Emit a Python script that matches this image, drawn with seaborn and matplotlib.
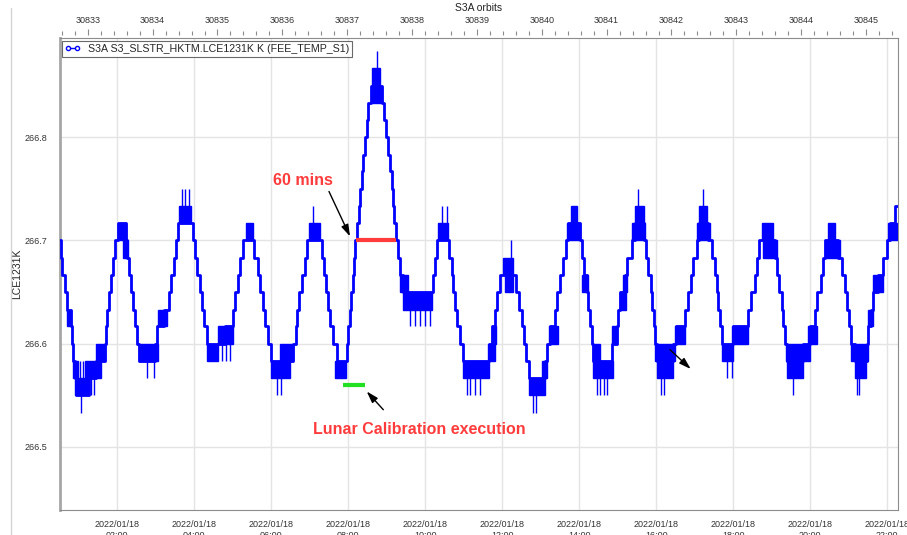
import numpy as np
import pandas as pd
import matplotlib
matplotlib.use("Agg")
import matplotlib.pyplot as plt
import seaborn as sns
from matplotlib.lines import Line2D
from matplotlib.ticker import MultipleLocator, FixedLocator, FuncFormatter

# ---------------- data (time in minutes after 2022/01/18 00:00, temperature in K) ----------------
main_t = [31, 32.2, 34.2, 38.0, 42.0, 47.3, 49.4, 51.4, 53.6, 55.6,
          75.9, 87.2, 100.3, 101.9, 104.4, 107.0, 110.6, 113.3, 116.9, 121.1,
          134.0, 135.6, 138.2, 140.9, 144.5, 148.0, 150.7, 153.8,
          178.3, 182.3, 192.8, 200.6, 204.2, 207.9, 211.0, 214.6,
          238.0, 240.6, 244.7, 248.4, 251.5, 255.1, 259.3,
          287.9, 300.9, 303.5, 308.6, 311.3, 315.5,
          333.1, 339.8, 342.4, 346.6, 350.3, 355.4, 359.1,
          394.5, 398.1, 399.7, 403.7, 407.5, 412.6, 416.2,
          438.6, 442.7, 445.4, 449.0, 451.6, 455.8, 462.0,
          477.6, 480.0, 482.3, 484.3, 486.9, 489.0, 491.0, 494.1, 496.3, 498.8, 501.0, 503.5, 506.2, 508.8, 511.3, 515.0,
          532.2, 535.8, 538.9, 541.5, 545.1, 547.8, 550.3, 551.8, 554.5, 558.1, 560.7, 564.9,
          612.6, 615.3, 617.9,
          637.6, 641.3, 643.8, 646.9, 650.1, 654.3, 658.5,
          699.9, 703.7, 708.8, 711.4, 716.6,
          741.6, 746.7, 750.5, 754.0, 757.2, 762.3,
          786.8, 789.4, 794.6, 802.4, 806.0, 810.2, 814.4, 819.5, 823.1,
          841.3, 844.0, 847.6, 851.7, 854.3, 856.9, 859.6, 862.1,
          890.8, 898.6, 901.1, 903.7, 911.5, 915.1, 922.0, 927.1,
          941.1, 944.2, 947.8, 951.6, 954.0, 956.7, 958.7, 960.9,
          986.8, 991.0, 1005.0, 1010.2, 1013.9, 1018.0, 1023.2, 1027.3,
          1041.4, 1046.6, 1051.8, 1054.4, 1056.9, 1059.6, 1062.2,
          1080.3, 1103.7, 1107.4, 1114.1, 1117.7, 1120.8,
          1145.3, 1148.0, 1152.0, 1155.8, 1158.3, 1160.9, 1163.6,
          1188.5, 1199.9, 1207.7, 1211.3, 1216.6, 1219.7, 1223.3,
          1244.0, 1249.3, 1254.5, 1258.1, 1261.2, 1263.3, 1270.0,
          1288.3, 1290.8, 1294.5, 1298.6, 1306.4, 1314.2, 1320.5, 1324.6, 1332.4, 1337.0]

main_K = [266.700, 266.683, 266.667, 266.650, 266.633, 266.617, 266.600, 266.583, 266.567, 266.550,
          266.567, 266.583, 266.600, 266.617, 266.633, 266.650, 266.667, 266.683, 266.700, 266.717,
          266.700, 266.683, 266.667, 266.650, 266.633, 266.617, 266.600, 266.583,
          266.600, 266.617, 266.633, 266.650, 266.667, 266.683, 266.700, 266.717,
          266.700, 266.683, 266.667, 266.650, 266.633, 266.617, 266.600,
          266.617, 266.633, 266.650, 266.667, 266.683, 266.700,
          266.683, 266.667, 266.650, 266.633, 266.617, 266.600, 266.583,
          266.600, 266.617, 266.633, 266.650, 266.667, 266.683, 266.700,
          266.683, 266.667, 266.650, 266.633, 266.617, 266.600, 266.583,
          266.600, 266.617, 266.633, 266.650, 266.667, 266.683, 266.700, 266.717, 266.733, 266.750, 266.767, 266.783, 266.800, 266.817, 266.833, 266.850,
          266.833, 266.817, 266.800, 266.783, 266.767, 266.750, 266.733, 266.717, 266.700, 266.683, 266.667, 266.650,
          266.667, 266.683, 266.700,
          266.683, 266.667, 266.650, 266.633, 266.617, 266.600, 266.583,
          266.600, 266.617, 266.633, 266.650, 266.667,
          266.650, 266.633, 266.617, 266.600, 266.583, 266.567,
          266.583, 266.600, 266.617, 266.633, 266.650, 266.667, 266.683, 266.700, 266.717,
          266.700, 266.683, 266.667, 266.650, 266.633, 266.617, 266.600, 266.583,
          266.600, 266.617, 266.633, 266.650, 266.667, 266.683, 266.700, 266.717,
          266.700, 266.683, 266.667, 266.650, 266.633, 266.617, 266.600, 266.583,
          266.600, 266.617, 266.633, 266.650, 266.667, 266.683, 266.700, 266.717,
          266.700, 266.683, 266.667, 266.650, 266.633, 266.617, 266.600,
          266.617, 266.633, 266.650, 266.667, 266.683, 266.700,
          266.683, 266.667, 266.650, 266.633, 266.617, 266.600, 266.583,
          266.600, 266.617, 266.633, 266.650, 266.667, 266.683, 266.700,
          266.683, 266.667, 266.650, 266.633, 266.617, 266.600, 266.583,
          266.600, 266.617, 266.633, 266.650, 266.667, 266.683, 266.700, 266.717, 266.733, 266.733]

# dense toggling between two adjacent levels (start, end, low, high)
blk_t0 = [41.6, 50.9, 54.5, 69.2, 87.3, 121.1, 128.9, 153.8, 183.4, 215.7,
          259.4, 277.4, 320.2, 359.1, 373.6, 419.3, 459.4, 516.6, 516.6, 560.7,
          564.9, 620.4, 659.4, 698.4, 703.7, 720.8, 724.4, 762.3, 781.6, 793.5,
          821.5, 826.8, 844.0, 862.1, 862.1, 890.8, 903.7, 907.9, 927.1, 922.0,
          958.7, 960.9, 989.5, 1027.3, 1023.2, 1062.2, 1077.8, 1124.6, 1126.6, 1162.5,
          1163.6, 1197.3, 1228.4, 1223.3, 1263.3, 1270.0, 1290.8, 1298.6, 1322.0]
blk_t1 = [47.8, 58.7, 75.4, 95.0, 100.3, 134.0, 136.7, 183.4, 198.0, 234.4,
          277.4, 300.9, 331.1, 389.2, 394.5, 436.0, 476.5, 529.5, 532.2, 573.6,
          610.1, 636.0, 699.9, 708.8, 710.4, 737.4, 737.4, 786.8, 789.4, 807.5,
          841.3, 837.1, 853.8, 893.3, 872.5, 899.5, 913.1, 914.1, 941.1, 942.7,
          989.5, 986.8, 1005.0, 1039.8, 1044.0, 1080.3, 1103.7, 1142.7, 1148.0, 1199.9,
          1188.5, 1210.4, 1238.9, 1246.7, 1290.8, 1287.1, 1298.6, 1313.7, 1335.1]
blk_lo = [266.617, 266.567, 266.550, 266.567, 266.583, 266.700, 266.683, 266.583, 266.617, 266.717,
          266.583, 266.600, 266.700, 266.567, 266.583, 266.700, 266.567, 266.850, 266.833, 266.650,
          266.633, 266.700, 266.567, 266.583, 266.600, 266.667, 266.650, 266.550, 266.567, 266.600,
          266.700, 266.717, 266.650, 266.567, 266.583, 266.600, 266.633, 266.650, 266.717, 266.700,
          266.583, 266.567, 266.600, 266.717, 266.700, 266.583, 266.600, 266.700, 266.683, 266.583,
          266.567, 266.600, 266.700, 266.683, 266.583, 266.567, 266.617, 266.650, 266.700]
blk_hi = [266.633, 266.583, 266.567, 266.583, 266.600, 266.717, 266.700, 266.600, 266.633, 266.733,
          266.600, 266.617, 266.717, 266.583, 266.600, 266.717, 266.583, 266.867, 266.850, 266.667,
          266.650, 266.717, 266.583, 266.600, 266.617, 266.683, 266.667, 266.567, 266.583, 266.617,
          266.717, 266.733, 266.667, 266.583, 266.600, 266.617, 266.650, 266.667, 266.733, 266.717,
          266.600, 266.583, 266.617, 266.733, 266.717, 266.600, 266.617, 266.717, 266.700, 266.600,
          266.583, 266.617, 266.717, 266.700, 266.600, 266.583, 266.633, 266.667, 266.717]

# isolated single-sample excursions (time, low, high)
spk_t = [61.4, 63.9, 66.5, 79.4, 83.7, 166.8, 176.7, 220.9, 225.5, 231.3,
         283.2, 289.4, 295.7, 368.5, 375.2, 424.6, 524.4, 576.3, 584.1, 591.9,
         599.7, 607.5, 626.7, 633.5, 664.7, 669.8, 677.6, 685.4, 733.3, 768.6,
         772.7, 867.9, 872.5, 878.8, 883.4, 932.2, 968.3, 972.4, 1033.0, 1070.1,
         1077.8, 1173.9, 1273.6, 1276.7]
spk_lo = [266.550, 266.533, 266.550, 266.550, 266.550, 266.567, 266.567, 266.733, 266.733, 266.733,
          266.583, 266.583, 266.583, 266.550, 266.550, 266.717, 266.867, 266.617, 266.617, 266.617,
          266.617, 266.617, 266.717, 266.717, 266.550, 266.550, 266.550, 266.550, 266.683, 266.533,
          266.533, 266.550, 266.550, 266.550, 266.550, 266.733, 266.550, 266.550, 266.733, 266.567,
          266.567, 266.550, 266.550, 266.550]
spk_hi = [266.583, 266.550, 266.583, 266.583, 266.583, 266.583, 266.583, 266.750, 266.750, 266.750,
          266.600, 266.600, 266.600, 266.567, 266.567, 266.733, 266.883, 266.633, 266.633, 266.633,
          266.633, 266.633, 266.733, 266.733, 266.567, 266.567, 266.567, 266.567, 266.700, 266.550,
          266.550, 266.567, 266.567, 266.567, 266.567, 266.750, 266.567, 266.567, 266.750, 266.583,
          266.583, 266.567, 266.567, 266.567]

# annotation marks
span60_min = [492.1, 554.5]
span60_K = 266.700
lunar_min = [471.4, 506.1]
lunar_K = 266.560

y_major = [266.5, 266.6, 266.7, 266.8]
date_label = "2022/01/18"
series_label = "S3A S3_SLSTR_HKTM.LCE1231K K (FEE_TEMP_S1)"
orbit_labels = list(range(30833, 30846))
orbit_ref = 30833
orbit_ref_min = 74.0
orbit_period_min = 101.1

assert len(main_t) == len(main_K)

# ---------------- figure ----------------
sns.set_style("white")
plt.rcParams["font.family"] = ["Liberation Sans", "DejaVu Sans"]

fig = plt.figure(figsize=(9.07, 5.35), dpi=100)
ax = fig.add_axes([60 / 907, 1 - 510 / 535, 838 / 907, 472 / 535])

BLUE = "#0000ff"
df = pd.DataFrame({"t": main_t, "K": main_K})
sns.lineplot(data=df, x="t", y="K", ax=ax, drawstyle="steps-post", color=BLUE,
             lw=2.0, estimator=None, sort=False, legend=False, zorder=3)
ax.bar(x=blk_t0, height=np.subtract(blk_hi, blk_lo), width=np.subtract(blk_t1, blk_t0),
       bottom=blk_lo, align="edge", color=BLUE, edgecolor=BLUE, linewidth=1.0, zorder=3)
ax.vlines(spk_t, spk_lo, spk_hi, color=BLUE, lw=1.0, zorder=3)

ax.hlines(span60_K, span60_min[0], span60_min[1], color="#ff3b3b", lw=3, zorder=4)
ax.hlines(lunar_K, lunar_min[0], lunar_min[1], color="#22e022", lw=3, zorder=4)

ax.set_xlim(30.7, 1337)
ax.set_ylim(266.439, 266.896)

# axes styling
ax.grid(True, which="major", color="#e4e4e4", lw=1)
ax.set_axisbelow(True)
for s in ["top", "right", "bottom"]:
    ax.spines[s].set_color("#8c8c8c")
    ax.spines[s].set_linewidth(0.8)
ax.spines["left"].set_color("#a6a6a6")
ax.spines["left"].set_linewidth(2)

ax.yaxis.set_major_locator(FixedLocator(y_major))
ax.yaxis.set_minor_locator(MultipleLocator(0.02))
ax.yaxis.set_major_formatter(FuncFormatter(lambda v, p: f"{v:.1f}"))
ax.xaxis.set_major_locator(MultipleLocator(120))
ax.xaxis.set_minor_locator(MultipleLocator(30))
ax.xaxis.set_major_formatter(FuncFormatter(
    lambda m, p: f"{date_label}\n{int(m // 60):02d}:{int(m % 60):02d}"))
ax.tick_params(axis="both", which="both", direction="out", color="#8c8c8c",
               labelsize=6.5, labelcolor="#333333", width=0.8)
ax.tick_params(axis="both", which="major", length=4)
ax.tick_params(axis="both", which="minor", length=3)
ax.tick_params(axis="x", which="major", pad=3.5)
ax.tick_params(axis="y", which="major", pad=5)
ax.set_xlabel("")
ax.set_ylabel("LCE1231K", fontsize=7.5, color="#222222")
ax.yaxis.set_label_coords(-0.0453, 0.5)

# top orbit axis
sec = ax.secondary_xaxis(1.006, functions=(
    lambda m: orbit_ref + (np.asarray(m) - orbit_ref_min) / orbit_period_min,
    lambda o: orbit_ref_min + (np.asarray(o) - orbit_ref) * orbit_period_min))
sec.xaxis.set_major_locator(FixedLocator(orbit_labels))
sec.xaxis.set_minor_locator(MultipleLocator(0.2))
sec.xaxis.set_major_formatter(FuncFormatter(lambda v, p: f"{int(round(v))}"))
sec.spines["top"].set_visible(False)
sec.tick_params(axis="x", which="both", direction="out", color="#8c8c8c",
                labelsize=6.5, labelcolor="#333333", width=0.8)
sec.tick_params(axis="x", which="major", length=4, pad=3)
sec.tick_params(axis="x", which="minor", length=3)
sec.set_xlabel("S3A orbits", fontsize=7.5, color="#222222", labelpad=4)

# legend
h = Line2D([0], [0], color=BLUE, lw=1, marker="o", ms=3, mfc="white", mec=BLUE, mew=1)
leg = ax.legend(handles=[h], labels=[series_label], loc="upper left",
                bbox_to_anchor=(0.002, 0.993), frameon=True, fancybox=False,
                edgecolor="#444444", fontsize=7.7, handlelength=1.5, numpoints=2,
                borderpad=0.25, handletextpad=0.7, borderaxespad=0)
leg.get_frame().set_linewidth(0.8)

# annotations
RED = "#ff3b3b"
ax.text(409.5, 266.758, "60 mins", color=RED, fontsize=11.5, fontweight="bold",
        ha="center", va="center", zorder=5)
ax.text(590.3, 266.5167, "Lunar Calibration execution", color=RED, fontsize=11.5,
        fontweight="bold", ha="center", va="center", zorder=5)
arrow = dict(arrowstyle="-|>,head_length=0.7,head_width=0.22", color="black",
             lw=1.0, shrinkA=0, shrinkB=0)
ax.annotate("", xy=(482.8, 266.7039), xytext=(450.0, 266.7474), arrowprops=arrow, zorder=5)
ax.annotate("", xy=(508.8, 266.5538), xytext=(534.7, 266.5361), arrowprops=arrow, zorder=5)
ax.annotate("", xy=(1013.9, 266.5755), xytext=(981.6, 266.5942), arrowprops=arrow, zorder=5)

# window frame line at left
fig.add_artist(Line2D([10.5 / 907, 10.5 / 907], [0, 0.985], color="#d4d4d4", lw=1))

fig.savefig("out.png", dpi=100)
